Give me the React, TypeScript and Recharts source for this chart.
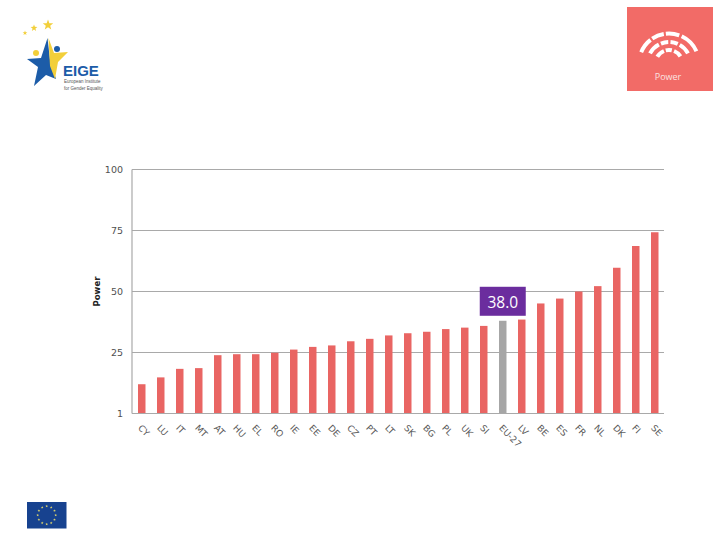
import React from "react";
import { BarChart, Bar, XAxis, YAxis, CartesianGrid, Cell, LabelList } from "recharts";

const categories = ["CY","LU","IT","MT","AT","HU","EL","RO","IE","EE","DE","CZ","PT","LT","SK","BG","PL","UK","SI","EU-27","LV","BE","ES","FR","NL","DK","FI","SE"];
const powerValues = [12.0,14.8,18.3,18.6,23.9,24.3,24.3,24.9,26.2,27.3,27.9,29.6,30.6,32.0,32.9,33.5,34.6,35.2,35.9,38.0,38.5,45.1,47.1,50.0,52.2,59.7,68.6,74.3];
const yTicks = [0,25,50,75,100];
const highlighted = "EU-27";

const rows = categories.map((name, i) => ({ name, value: powerValues[i] }));

const FONT = "'DejaVu Sans', sans-serif";
const CORAL = "#e96563";
const GREY = "#a6a6a6";

const XTick = (p: any) => (
  <text x={p.x - 2} y={p.y - 3} transform={`rotate(45 ${p.x - 2} ${p.y - 3})`} textAnchor="start" dominantBaseline="central"
    fontSize={9} fontFamily={FONT} fill="#595959">{p.payload.value}</text>
);

const HighlightLabel = (p: any) => {
  if (categories[p.index] !== highlighted) return null;
  const cx = p.x + p.width / 2;
  const bottom = p.y - 5;
  return (
    <g>
      <rect x={cx - 23} y={bottom - 29} width={46} height={29} fill="#6b2d9e" />
      <text x={cx} y={bottom - 14} textAnchor="middle" dominantBaseline="central" fontSize={15.5}
        fontFamily="'Open Sans', sans-serif" fill="#ffffff">{Number(p.value).toFixed(1)}</text>
    </g>
  );
};

const star = (cx: number, cy: number, r: number) => {
  const pts: string[] = [];
  for (let i = 0; i < 10; i++) {
    const rad = i % 2 === 0 ? r : r * 0.42;
    const a = -Math.PI / 2 + (i * Math.PI) / 5;
    pts.push(`${cx + rad * Math.cos(a)},${cy + rad * Math.sin(a)}`);
  }
  return pts.join(" ");
};

const arc = (cx: number, cy: number, r: number, a0: number, a1: number) => {
  const p = (a: number) => `${cx + r * Math.cos((a * Math.PI) / 180)} ${cy + r * Math.sin((a * Math.PI) / 180)}`;
  return `M ${p(a0)} A ${r} ${r} 0 0 1 ${p(a1)}`;
};

const powerArcs: [number, [number, number][]][] = [
  [30, [[-158,-128],[-124,-100],[-96,-70],[-65,-24]]],
  [21.5, [[-152,-118],[-112,-92],[-86,-66],[-60,-28]]],
  [13.5, [[-150,-112],[-104,-78],[-68,-32]]],
];

const Decorations = () => (
  <svg width={720} height={540} style={{ position: "absolute", left: 0, top: 0 }}>
    <polygon points={star(25, 33, 2.5)} fill="#f2cf3a" />
    <polygon points={star(34, 28, 3.6)} fill="#f2cf3a" />
    <polygon points={star(48, 25, 5.5)} fill="#f2cf3a" />
    <polygon points="47.5,38 41,58 27,59 38,67 34,86 46,75 56,79 50,60" fill="#1c5ca8" />
    <polygon points="48.5,38 54,53 68,52 58,62 55,79 50,66" fill="#f2cf3a" />
    <circle cx={36} cy={53} r={3} fill="#f2cf3a" />
    <circle cx={57} cy={49} r={3} fill="#1c5ca8" />
    <text x={63} y={76} fontSize={15} fontWeight="bold" fontFamily="'Liberation Sans', sans-serif" fill="#1c5ca8">EIGE</text>
    <text x={64} y={83} fontSize={4.5} fontFamily="'Liberation Sans', sans-serif" fill="#555">European Institute</text>
    <text x={64} y={90} fontSize={4.5} fontFamily="'Liberation Sans', sans-serif" fill="#555">for Gender Equality</text>

    <rect x={627} y={7} width={86} height={84} fill="#f26b67" />
    {powerArcs.map(([r, segs]) =>
      segs.map(([a0, a1]) => (
        <path key={`${r}${a0}`} d={arc(669, 63.5, r, a0, a1)} fill="none" stroke="#ffffff" strokeWidth={4} />
      ))
    )}
    <text x={668} y={80} textAnchor="middle" fontSize={9} fontFamily="'Open Sans', sans-serif" fill="#fbe3e2">Power</text>

    <rect x={27} y={502} width={39.5} height={26.5} fill="#17428f" />
    {Array.from({ length: 12 }).map((_, i) => {
      const a = (i * Math.PI) / 6;
      return <polygon key={i} points={star(46.7 + 9 * Math.cos(a), 515.2 + 9 * Math.sin(a), 1.4)} fill="#e8dc6a" />;
    })}
    <text x={100} y={291.5} transform="rotate(-90 100 291.5)" textAnchor="middle" fontSize={8.5} fontWeight="bold"
      fontFamily={FONT} fill="#222">Power</text>
  </svg>
);

export default function App() {
  return (
    <div style={{ position: "absolute", left: 0, top: 0, width: 720, height: 540, background: "#fff" }}>
      <Decorations />
      <div style={{ position: "absolute", left: 0, top: 0 }}>
        <BarChart width={720} height={540} data={rows} barSize={7.5}
          margin={{ top: 169.5, right: 56, bottom: 86.5, left: 92 }}>
          <CartesianGrid horizontal vertical={false} stroke="#a9a9a9" strokeWidth={1.2} />
          <XAxis dataKey="name" interval={0} height={40} tick={<XTick />} tickLine={false}
            axisLine={{ stroke: "#a9a9a9", strokeWidth: 1.2 }} tickMargin={10} />
          <YAxis width={40} domain={[0, 100]} ticks={yTicks} tickLine={false}
            axisLine={{ stroke: "#a9a9a9", strokeWidth: 1.2 }} tickMargin={3}
            tickFormatter={(v: number) => (v === 0 ? "1" : String(v))}
            tick={{ fontSize: 9.5, fontFamily: FONT, fill: "#505050" }} />
          <Bar dataKey="value" isAnimationActive={false}>
            {rows.map((r) => (
              <Cell key={r.name} fill={r.name === highlighted ? GREY : CORAL} />
            ))}
            <LabelList dataKey="value" content={<HighlightLabel />} />
          </Bar>
        </BarChart>
      </div>
    </div>
  );
}
